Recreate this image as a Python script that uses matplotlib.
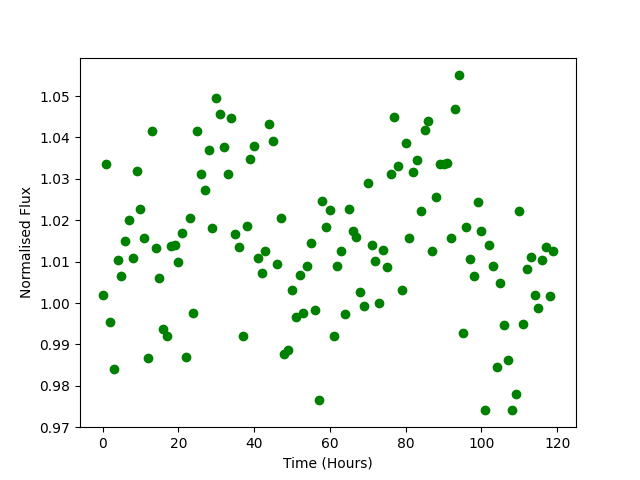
import numpy as np
import matplotlib
matplotlib.use('Agg')
import matplotlib.pyplot as plt

# hours since start of observation
time_hours = np.arange(120)

# normalised flux
flux = [
    1.0019, 1.0337, 0.9954, 0.9841, 1.0105, 1.0065, 1.0149, 1.0201, 1.0110, 1.0320,
    1.0227, 1.0158, 0.9867, 1.0415, 1.0132, 1.0060, 0.9937, 0.9920, 1.0138, 1.0141,
    1.0098, 1.0170, 0.9870, 1.0206, 0.9976, 1.0415, 1.0312, 1.0273, 1.0369, 1.0182,
    1.0495, 1.0456, 1.0377, 1.0311, 1.0446, 1.0167, 1.0136, 0.9920, 1.0186, 1.0347,
    1.0379, 1.0110, 1.0072, 1.0126, 1.0432, 1.0392, 1.0095, 1.0206, 0.9878, 0.9886,
    1.0031, 0.9966, 1.0068, 0.9976, 1.0090, 1.0146, 0.9983, 0.9766, 1.0247, 1.0184,
    1.0225, 0.9920, 1.0090, 1.0126, 0.9973, 1.0227, 1.0174, 1.0160, 1.0027, 0.9993,
    1.0290, 1.0141, 1.0102, 1.0000, 1.0129, 1.0088, 1.0311, 1.0449, 1.0332, 1.0031,
    1.0387, 1.0158, 1.0317, 1.0345, 1.0222, 1.0417, 1.0441, 1.0126, 1.0255, 1.0336,
    1.0335, 1.0339, 1.0158, 1.0468, 1.0552, 0.9928, 1.0184, 1.0107, 1.0065, 1.0243,
    1.0174, 0.9741, 1.0141, 1.0090, 0.9846, 1.0048, 0.9947, 0.9862, 0.9741, 0.9781,
    1.0222, 0.9949, 1.0083, 1.0112, 1.0019, 0.9988, 1.0105, 1.0136, 1.0017, 1.0126,
]

fig = plt.figure(figsize=(6.4, 4.8), dpi=100)
ax = fig.add_subplot(111)
ax.plot(time_hours, flux, 'o', color='green')
ax.set_ylim(0.97, 1.0593)
ax.set_xlabel('Time (Hours)')
ax.set_ylabel('Normalised Flux')

fig.savefig('out.png')
